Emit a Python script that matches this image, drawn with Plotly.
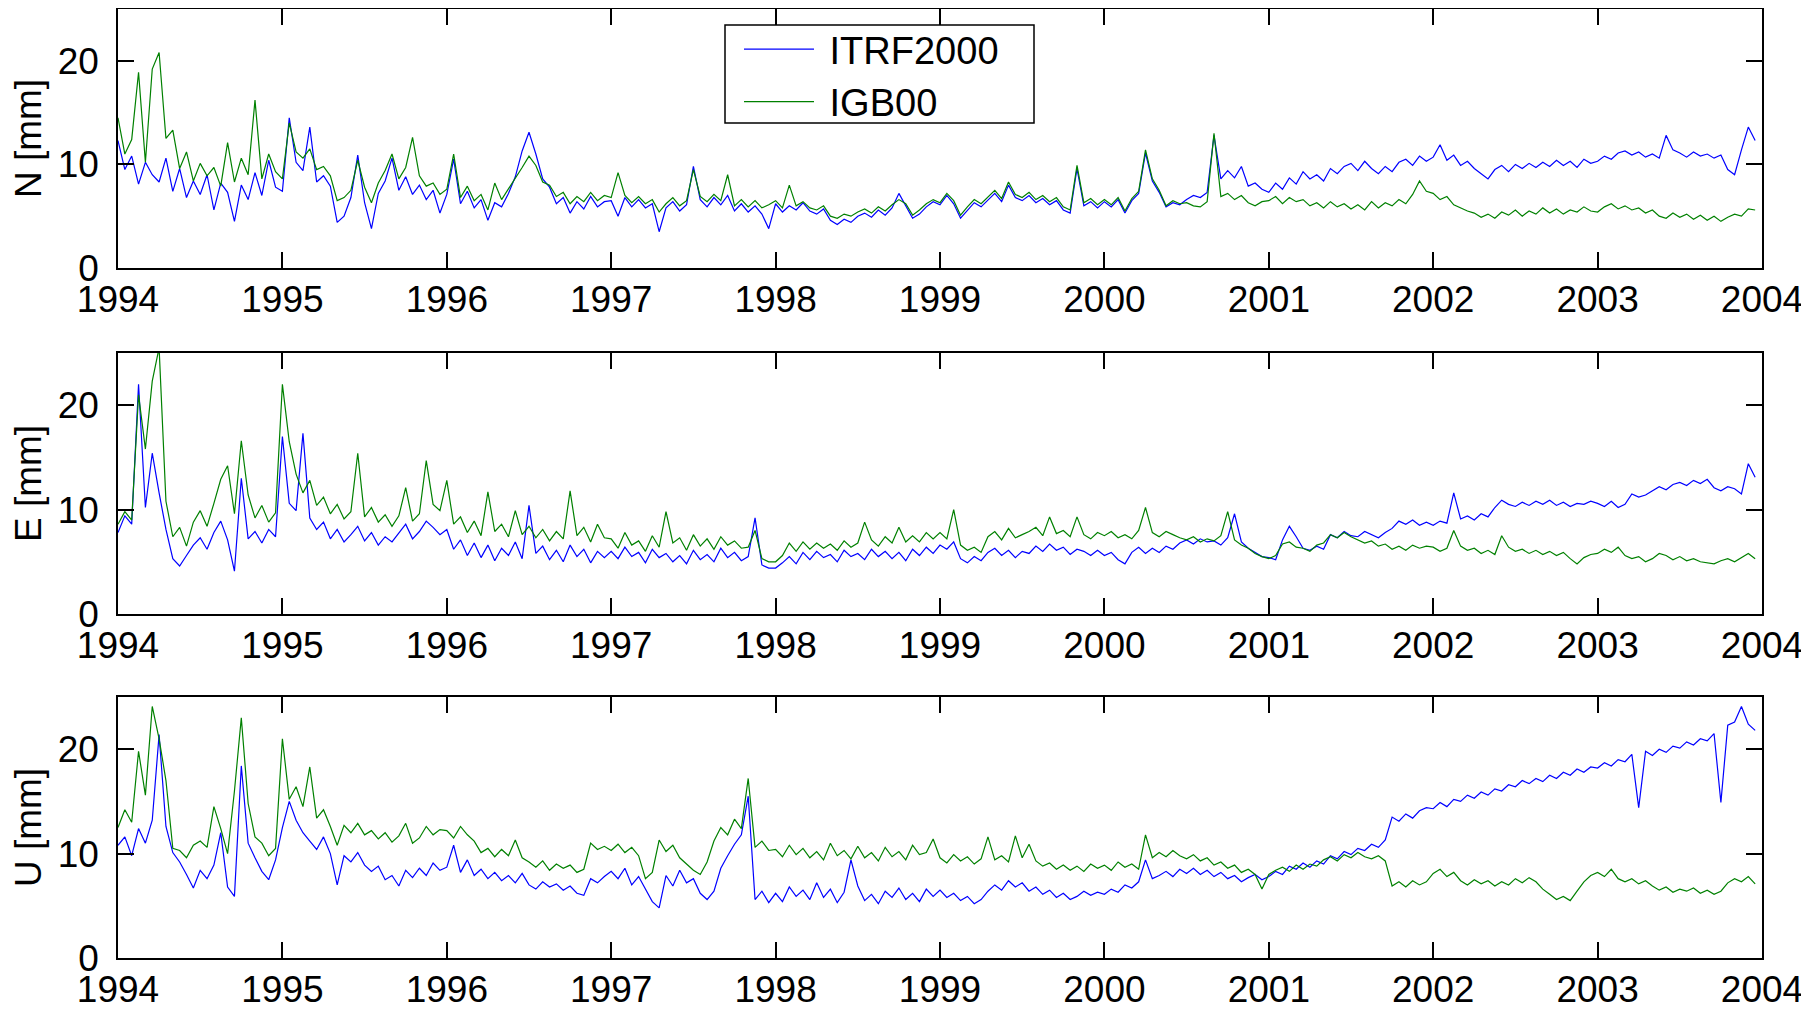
import numpy as np
import plotly.graph_objects as go

# ---------------- data (semi-monthly readings, mm) ----------------
years = list(range(1994, 2004))
tick_years = list(range(1994, 2005))
tick_labels = [str(y) for y in tick_years]
series_names = ["ITRF2000", "IGB00"]
panel_labels = ["N [mm]", "E [mm]", "U [mm]"]

N_ITRF = [
    12.3, 9.5, 10.8, 8.1, 10.2, 9.0, 8.3, 10.6, 7.4, 9.6, 6.8, 8.4, 7.1, 9.0, 5.6, 8.2, 7.3, 4.5, 8.0, 6.6, 9.2, 7.0, 10.4, 7.8,
    7.4, 14.5, 10.2, 9.4, 13.6, 8.3, 8.9, 7.9, 4.4, 5.0, 6.8, 10.9, 6.3, 3.8, 7.2, 8.4, 10.6, 7.5, 8.8, 7.1, 8.0, 6.6, 7.5, 5.3,
    7.1, 10.5, 6.2, 7.4, 5.8, 6.6, 4.6, 6.3, 5.9, 7.2, 8.8, 11.3, 13.1, 11.0, 8.6, 7.8, 6.2, 6.8, 5.3, 6.4, 5.7, 6.9, 5.9, 6.4,
    6.5, 5.0, 6.8, 5.9, 6.6, 5.8, 6.2, 3.5, 5.8, 6.4, 5.5, 6.1, 9.8, 6.6, 5.9, 6.8, 6.1, 7.0, 5.5, 6.2, 5.4, 6.0, 5.2, 3.8,
    6.2, 5.4, 6.0, 5.6, 6.3, 5.5, 5.2, 5.7, 4.6, 4.2, 4.7, 4.4, 5.0, 5.3, 4.9, 5.6, 5.1, 5.8, 7.2, 6.0, 4.8, 5.2, 5.9, 6.4,
    6.1, 7.0, 6.2, 4.8, 5.6, 6.3, 5.9, 6.6, 7.2, 6.4, 8.0, 6.8, 6.5, 7.0, 6.3, 6.7, 6.1, 6.5, 5.6, 5.3, 9.6, 6.0, 6.4, 5.8,
    6.4, 5.9, 6.6, 5.3, 6.5, 7.2, 11.1, 8.4, 7.3, 5.9, 6.3, 6.1, 6.6, 7.0, 6.8, 7.3, 12.8, 8.6, 9.4, 8.7, 9.8, 7.9, 8.2, 7.6,
    7.3, 8.2, 7.6, 8.7, 8.1, 9.3, 8.6, 9.0, 8.4, 9.6, 9.1, 9.8, 10.1, 9.4, 10.3, 9.6, 9.1, 9.8, 9.3, 10.2, 10.5, 9.9, 10.8, 10.3,
    10.7, 11.9, 10.4, 10.9, 9.9, 10.3, 9.6, 9.1, 8.6, 9.5, 9.9, 9.3, 10.0, 9.6, 10.1, 9.7, 10.2, 9.8, 10.4, 9.9, 10.3, 9.7, 10.5, 10.1,
    10.3, 10.8, 10.5, 11.1, 11.3, 10.9, 11.2, 10.7, 11.0, 10.6, 12.8, 11.4, 11.1, 10.7, 11.2, 10.8, 11.0, 10.6, 10.9, 9.5, 9.0, 11.4, 13.6, 12.3,
]
N_IGB = [
    14.5, 11.0, 12.4, 18.9, 10.2, 19.2, 20.8, 12.5, 13.3, 9.6, 11.2, 8.4, 10.1, 8.9, 9.7, 7.9, 12.1, 8.3, 10.6, 9.0, 16.2, 8.6, 11.0, 9.3,
    8.6, 14.0, 11.2, 10.6, 11.5, 9.5, 9.8, 8.9, 6.5, 6.8, 7.5, 10.4, 7.8, 6.3, 8.2, 9.4, 11.0, 8.6, 9.7, 12.6, 8.9, 7.9, 8.2, 7.1,
    7.6, 11.0, 6.8, 7.9, 6.5, 7.1, 5.6, 8.2, 6.6, 7.6, 8.7, 9.7, 10.8, 9.9, 8.3, 8.0, 6.9, 7.3, 6.2, 6.9, 6.4, 7.3, 6.5, 7.0,
    6.8, 9.2, 7.0, 6.3, 6.9, 6.2, 6.6, 5.4, 6.2, 6.8, 6.0, 6.5, 9.5, 6.9, 6.4, 7.1, 6.5, 9.0, 6.0, 6.6, 5.9, 6.5, 5.8, 6.1,
    6.5, 5.8, 8.0, 6.0, 6.4, 5.8, 5.6, 6.0, 5.0, 4.8, 5.2, 5.0, 5.4, 5.7, 5.3, 5.9, 5.5, 6.1, 6.6, 6.2, 5.1, 5.6, 6.2, 6.6,
    6.3, 7.2, 6.5, 5.1, 5.9, 6.6, 6.2, 6.9, 7.5, 6.7, 8.3, 7.1, 6.8, 7.3, 6.6, 7.0, 6.4, 6.8, 5.9, 5.6, 9.9, 6.3, 6.7, 6.1,
    6.6, 6.1, 6.8, 5.5, 6.7, 7.4, 11.4, 8.6, 7.5, 6.0, 6.5, 6.2, 6.3, 6.0, 5.9, 6.4, 13.0, 6.9, 7.2, 6.6, 7.0, 6.3, 6.0, 6.4,
    6.5, 6.9, 6.2, 6.8, 6.4, 6.6, 6.0, 6.3, 5.8, 6.4, 5.9, 6.2, 5.7, 6.1, 5.6, 6.4, 5.8, 6.3, 6.0, 6.6, 6.2, 7.1, 8.4, 7.4,
    7.2, 6.6, 6.9, 6.1, 5.8, 5.5, 5.3, 4.9, 5.2, 4.8, 5.4, 5.1, 5.6, 5.0, 5.5, 5.2, 5.8, 5.3, 5.7, 5.2, 5.6, 5.4, 5.9, 5.5,
    5.4, 5.9, 6.2, 5.7, 6.0, 5.6, 5.8, 5.3, 5.6, 5.0, 4.8, 5.3, 4.9, 5.2, 4.7, 5.1, 4.6, 5.0, 4.5, 4.9, 5.2, 5.0, 5.7, 5.6,
]
E_ITRF = [
    7.8, 9.4, 8.6, 22.0, 10.2, 15.4, 11.6, 8.1, 5.3, 4.6, 5.6, 6.6, 7.3, 6.2, 7.8, 8.9, 7.1, 4.1, 13.0, 7.2, 7.9, 6.8, 8.1, 7.4,
    17.0, 10.6, 9.9, 17.3, 9.2, 8.1, 8.8, 7.2, 8.1, 6.9, 7.6, 8.4, 7.0, 7.8, 6.6, 7.4, 6.9, 7.7, 8.6, 7.2, 7.9, 8.9, 8.3, 7.6,
    8.1, 6.2, 7.1, 5.6, 6.8, 5.4, 6.6, 5.1, 6.3, 5.6, 6.9, 5.3, 10.4, 5.8, 6.5, 5.2, 6.1, 5.0, 6.6, 5.5, 6.2, 4.9, 6.0, 5.4,
    6.0, 5.3, 6.4, 5.5, 5.9, 4.9, 6.2, 5.4, 5.8, 5.0, 5.6, 4.8, 6.1, 5.2, 5.7, 5.0, 6.3, 5.4, 5.9, 5.1, 5.5, 9.2, 4.7, 4.4,
    4.4, 4.9, 5.5, 4.8, 5.9, 5.2, 6.0, 5.4, 5.7, 5.0, 6.1, 5.5, 5.8, 5.2, 6.2, 5.5, 6.0, 5.3, 5.9, 5.1, 6.2, 5.6, 6.4, 5.8,
    6.6, 6.2, 6.9, 5.3, 4.9, 5.5, 5.1, 5.9, 6.3, 5.6, 6.1, 5.4, 6.0, 5.8, 6.5, 6.0, 6.7, 6.1, 6.4, 5.7, 6.2, 6.0, 5.6, 6.1,
    5.6, 5.9, 5.2, 4.8, 5.9, 6.4, 5.8, 6.3, 5.9, 6.5, 6.2, 6.8, 7.1, 6.7, 7.2, 6.9, 7.0, 6.6, 7.3, 9.6, 6.9, 6.3, 5.9, 5.5,
    5.4, 5.2, 7.1, 8.4, 7.4, 6.3, 6.1, 6.5, 6.2, 7.6, 7.3, 7.9, 7.5, 7.4, 7.9, 7.6, 7.3, 7.8, 8.2, 8.9, 8.6, 9.0, 8.5, 8.8,
    8.5, 8.9, 8.7, 11.6, 9.1, 9.4, 9.0, 9.6, 9.3, 10.2, 10.9, 10.5, 10.3, 10.7, 10.4, 10.8, 10.5, 10.9, 10.4, 10.7, 10.3, 10.6, 10.5, 10.8,
    10.6, 10.3, 10.8, 10.2, 10.5, 11.5, 11.2, 11.4, 11.8, 12.2, 11.9, 12.4, 12.6, 12.3, 12.8, 12.5, 12.9, 12.1, 11.8, 12.2, 12.0, 11.5, 14.4, 13.1,
]
E_IGB = [
    8.6, 9.8, 9.0, 21.0, 15.8, 22.3, 25.5, 10.8, 7.4, 8.3, 6.5, 8.8, 9.9, 8.4, 10.6, 12.9, 14.2, 9.6, 16.6, 11.4, 9.2, 10.4, 8.8, 9.7,
    22.0, 16.5, 13.4, 11.6, 12.8, 10.4, 11.2, 9.6, 10.5, 9.1, 9.8, 15.4, 9.3, 10.2, 8.8, 9.5, 8.4, 9.4, 12.1, 8.9, 9.6, 14.7, 10.5, 9.9,
    12.8, 8.6, 9.3, 7.8, 8.9, 7.5, 11.7, 7.9, 8.6, 7.4, 9.9, 7.6, 8.4, 7.3, 8.1, 7.0, 7.9, 7.2, 11.8, 7.5, 8.3, 6.9, 8.6, 7.3,
    7.2, 6.3, 7.8, 6.6, 7.0, 6.0, 7.5, 6.4, 9.8, 6.8, 7.3, 6.1, 7.6, 6.5, 7.2, 6.2, 7.4, 6.6, 7.0, 6.3, 6.4, 8.0, 5.3, 5.0,
    5.0, 5.6, 6.8, 6.0, 6.9, 6.2, 6.8, 6.3, 6.7, 6.1, 7.0, 6.4, 6.8, 8.8, 7.1, 6.5, 7.4, 6.8, 8.3, 6.9, 7.5, 6.9, 7.8, 7.2,
    7.8, 7.2, 10.0, 6.6, 6.1, 6.4, 5.9, 7.4, 7.9, 7.1, 8.2, 7.3, 7.6, 7.9, 8.3, 7.5, 9.3, 7.7, 8.0, 7.4, 9.3, 7.6, 7.2, 7.8,
    7.5, 7.9, 7.3, 7.6, 7.2, 8.0, 10.2, 7.8, 7.4, 7.9, 7.6, 7.3, 7.1, 7.4, 6.9, 7.2, 7.0, 7.5, 9.8, 7.1, 6.6, 6.3, 5.8, 5.5,
    5.3, 5.6, 6.7, 6.9, 6.4, 6.3, 6.0, 6.6, 6.8, 7.6, 7.3, 7.8, 7.4, 7.1, 6.8, 7.0, 6.5, 6.7, 6.2, 6.5, 6.1, 6.6, 6.3, 6.5,
    6.4, 6.0, 6.3, 8.0, 6.5, 6.1, 6.3, 5.8, 6.1, 5.7, 7.5, 6.4, 6.0, 6.2, 5.8, 6.1, 5.7, 6.0, 5.6, 5.9, 5.3, 4.8, 5.4, 5.7,
    5.8, 6.2, 5.9, 6.4, 5.6, 5.3, 5.5, 5.0, 5.3, 5.8, 5.6, 5.2, 5.5, 5.1, 5.3, 5.0, 4.9, 4.8, 5.1, 5.3, 5.0, 5.4, 5.8, 5.3,
]
U_ITRF = [
    10.8, 11.6, 9.8, 12.4, 11.0, 13.2, 21.4, 12.6, 10.1, 9.2, 8.0, 6.7, 8.4, 7.6, 8.9, 12.0, 6.8, 5.9, 18.4, 11.0, 9.6, 8.3, 7.5, 9.4,
    12.5, 15.0, 13.2, 12.0, 11.2, 10.4, 11.6, 10.0, 7.0, 9.8, 9.2, 10.1, 8.9, 8.3, 8.8, 7.5, 7.9, 6.9, 8.4, 7.7, 8.6, 7.9, 9.1, 8.4,
    8.7, 10.8, 8.2, 9.4, 7.9, 8.5, 7.6, 8.2, 7.4, 7.9, 7.2, 8.1, 7.0, 6.6, 7.3, 6.8, 7.1, 6.5, 6.9, 6.2, 6.0, 7.6, 7.2, 7.8,
    8.3, 7.6, 8.6, 7.0, 7.8, 6.6, 5.4, 4.8, 7.9, 6.9, 8.4, 7.2, 7.6, 6.2, 5.6, 6.4, 8.6, 9.8, 10.9, 11.8, 15.5, 5.6, 6.4, 5.3,
    6.2, 5.4, 6.8, 5.9, 6.5, 5.6, 7.2, 5.8, 6.6, 5.3, 6.3, 9.4, 6.9, 5.5, 6.1, 5.2, 6.4, 5.8, 6.7, 5.6, 6.2, 5.4, 6.6, 5.9,
    6.5, 5.8, 6.2, 5.5, 5.9, 5.2, 5.6, 6.4, 7.0, 6.5, 7.4, 6.8, 7.2, 6.4, 6.8, 6.1, 6.5, 5.8, 6.2, 5.6, 5.9, 6.4, 6.0, 6.3,
    6.1, 6.6, 6.3, 7.0, 6.7, 7.3, 9.4, 7.6, 7.9, 8.3, 7.8, 8.5, 8.1, 8.6, 8.0, 8.4, 7.8, 8.2, 7.6, 7.9, 7.3, 7.7, 8.0, 7.5,
    7.8, 8.3, 8.0, 8.8, 8.5, 9.1, 8.7, 9.3, 9.0, 9.8, 9.5, 10.2, 9.9, 10.5, 10.3, 10.9, 10.6, 11.3, 13.5, 13.1, 13.8, 13.4, 14.1, 14.4,
    14.3, 14.9, 14.5, 15.2, 15.0, 15.6, 15.3, 15.9, 15.6, 16.2, 16.0, 16.6, 16.4, 17.0, 16.7, 17.2, 16.9, 17.5, 17.2, 17.8, 17.5, 18.1, 17.8, 18.3,
    18.2, 18.7, 18.4, 19.0, 18.8, 19.5, 14.4, 19.8, 19.4, 20.0, 19.7, 20.3, 20.1, 20.7, 20.4, 21.0, 20.8, 21.5, 14.9, 22.3, 22.6, 24.1, 22.4, 21.8,
]
U_IGB = [
    12.5, 14.2, 13.0, 19.8, 15.6, 24.1, 21.0, 17.0, 10.5, 10.3, 9.6, 10.8, 11.2, 10.6, 14.5, 12.4, 10.0, 16.0, 23.0, 14.8, 11.6, 11.0, 9.8, 10.5,
    21.0, 15.2, 16.4, 14.5, 18.3, 13.4, 14.2, 12.6, 10.8, 12.7, 12.0, 12.9, 11.8, 12.2, 11.4, 12.0, 11.1, 11.7, 12.9, 11.0, 11.5, 12.6, 11.8, 12.3,
    12.2, 11.5, 12.6, 11.8, 11.2, 10.1, 10.5, 9.7, 10.4, 9.8, 11.3, 9.6, 9.2, 8.7, 9.3, 8.4, 9.0, 8.6, 8.9, 8.2, 8.5, 11.0, 10.4, 10.7,
    10.3, 10.9, 10.1, 10.6, 9.8, 7.6, 8.2, 11.3, 10.2, 10.8, 9.6, 9.0, 8.4, 8.0, 9.2, 11.2, 12.5, 11.8, 13.3, 12.4, 17.2, 10.6, 11.2, 10.3,
    10.4, 9.7, 10.8, 9.9, 10.5, 9.6, 10.2, 9.4, 11.0, 9.8, 10.3, 9.5, 10.7, 9.6, 10.1, 9.3, 10.6, 9.7, 10.2, 9.4, 10.8, 9.9, 10.1, 11.4,
    9.6, 9.1, 9.9, 9.3, 9.7, 9.0, 9.5, 11.6, 9.4, 9.8, 9.2, 11.7, 9.6, 10.9, 9.3, 8.8, 9.1, 8.5, 8.9, 8.4, 8.8, 8.3, 9.0, 8.6,
    8.9, 8.4, 9.2, 8.7, 9.0, 8.5, 11.8, 9.6, 10.1, 9.7, 10.3, 9.8, 9.5, 9.9, 9.3, 9.6, 8.9, 9.2, 8.6, 8.9, 8.2, 8.5, 8.0, 6.6,
    8.0, 8.4, 8.7, 8.3, 8.9, 8.5, 9.0, 8.8, 9.4, 9.7, 9.3, 9.9, 9.6, 10.1, 9.7, 9.5, 9.8, 9.3, 6.9, 7.3, 6.8, 7.4, 7.0, 7.3,
    8.1, 8.5, 7.8, 8.2, 7.4, 7.0, 7.5, 7.1, 7.4, 6.9, 7.3, 7.0, 7.6, 7.2, 7.7, 7.3, 6.6, 6.1, 5.6, 5.9, 5.5, 6.4, 7.3, 7.9,
    8.2, 7.8, 8.5, 7.6, 7.3, 7.6, 7.1, 7.4, 6.9, 6.5, 6.8, 6.3, 6.6, 6.4, 6.7, 6.2, 6.5, 6.1, 6.4, 7.2, 7.6, 7.3, 7.8, 7.1,
]

# time axis: 24 readings per year
t = np.concatenate([y + np.arange(24) / 24.0 for y in years])

colors = {"ITRF2000": "#0000ff", "IGB00": "#008000"}
panels = [(N_ITRF, N_IGB), (E_ITRF, E_IGB), (U_ITRF, U_IGB)]

FONT = "Liberation Sans, Arial, Helvetica, sans-serif"
FS = 37
FS_LEG = 38

# figure is drawn at an 8px page offset; plot area spans fig y 1..950, x 110..1754
W, H = 1801, 1003
ML, MR, MT, MB = 110, 47, 1, 53
PW = W - ML - MR
PH = H - MT - MB


def px_to_paper_x(x):
    return (x - ML) / PW


def px_to_paper_y(y):
    return (H - MB - y) / PH


domains = [[0.7271, 1.0], [0.3625, 0.6375], [0.0, 0.2750]]

fig = go.Figure()
for p, (itrf, igb) in enumerate(panels):
    xa = "x" if p == 0 else f"x{p+1}"
    ya = "y" if p == 0 else f"y{p+1}"
    for name, vals in zip(series_names, (itrf, igb)):
        fig.add_trace(go.Scatter(
            x=t, y=vals, mode="lines", name=" " + name,
            line=dict(color=colors[name], width=1.2),
            xaxis=xa, yaxis=ya, showlegend=(p == 0),
        ))

axis_common = dict(
    showline=True, linecolor="black", linewidth=1.5, mirror="ticks",
    ticks="inside", ticklen=16, tickwidth=1.5, tickcolor="black",
    showgrid=False, zeroline=False, automargin=False,
    tickfont=dict(family=FONT, size=FS, color="black"),
)

layout = dict(
    template="none",
    width=W, height=H,
    margin=dict(l=ML, r=MR, t=MT, b=MB, autoexpand=False),
    paper_bgcolor="white", plot_bgcolor="white",
    font=dict(family=FONT, size=FS, color="black"),
    showlegend=True,
    legend=dict(
        x=px_to_paper_x(731), y=px_to_paper_y(10), xanchor="left", yanchor="top",
        borderwidth=0, bgcolor="rgba(0,0,0,0)",
        font=dict(family=FONT, size=FS_LEG, color="black"),
        itemwidth=70, tracegroupgap=0,
    ),
    shapes=[dict(
        type="rect", xref="paper", yref="paper",
        x0=px_to_paper_x(717), x1=px_to_paper_x(1026),
        y0=px_to_paper_y(115), y1=px_to_paper_y(17),
        line=dict(color="black", width=1.5), fillcolor="white", layer="above",
    )],
)
for p in range(3):
    xk = "xaxis" if p == 0 else f"xaxis{p+1}"
    yk = "yaxis" if p == 0 else f"yaxis{p+1}"
    xa_anchor = "y" if p == 0 else f"y{p+1}"
    ya_anchor = "x" if p == 0 else f"x{p+1}"
    layout[xk] = dict(
        axis_common, domain=[0, 1], anchor=xa_anchor, range=[1994, 2004],
        tickvals=tick_years, ticktext=tick_labels, ticklabelstandoff=-2,
    )
    layout[yk] = dict(
        axis_common, domain=domains[p], anchor=ya_anchor, range=[0, 25],
        tickvals=[0, 10, 20], ticktext=["0", "10", "20"], ticklabelstandoff=10,
        title=dict(text=panel_labels[p], font=dict(family=FONT, size=FS), standoff=16),
    )
fig.update_layout(**layout)
fig.write_html("out.html")
